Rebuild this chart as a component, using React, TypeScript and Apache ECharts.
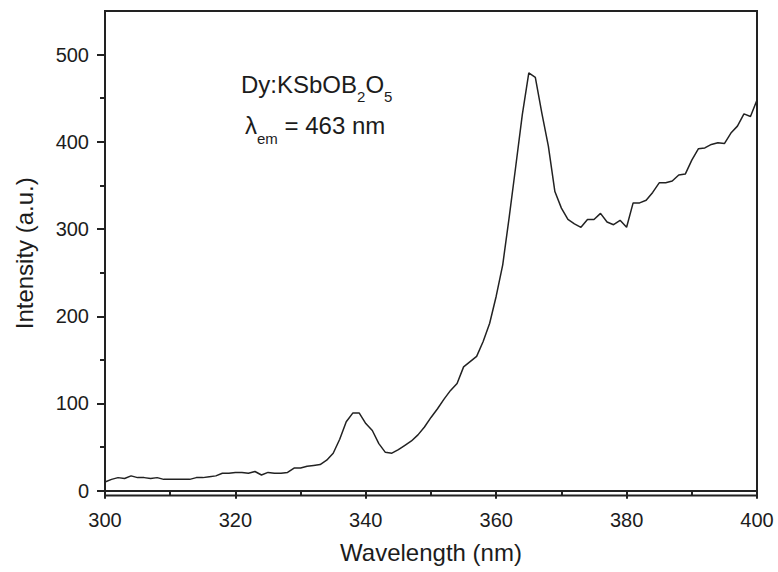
import { useEffect, useRef } from "react";
import * as echarts from "echarts";

// Excitation spectrum sampled every 1 nm from 300 to 400 nm
const wavelengths = [
  300, 301, 302, 303, 304, 305, 306, 307, 308, 309,
  310, 311, 312, 313, 314, 315, 316, 317, 318, 319,
  320, 321, 322, 323, 324, 325, 326, 327, 328, 329,
  330, 331, 332, 333, 334, 335, 336, 337, 338, 339,
  340, 341, 342, 343, 344, 345, 346, 347, 348, 349,
  350, 351, 352, 353, 354, 355, 356, 357, 358, 359,
  360, 361, 362, 363, 364, 365, 366, 367, 368, 369,
  370, 371, 372, 373, 374, 375, 376, 377, 378, 379,
  380, 381, 382, 383, 384, 385, 386, 387, 388, 389,
  390, 391, 392, 393, 394, 395, 396, 397, 398, 399,
  400,
];

const intensity = [
  10, 13, 15, 14, 17, 15, 15, 14, 15, 13,
  13, 13, 13, 13, 15, 15, 16, 17, 20, 20,
  21, 21, 20, 22, 18, 21, 20, 20, 21, 26,
  26, 28, 29, 30, 35, 43, 59, 79, 89, 89,
  77, 69, 54, 44, 43, 47, 52, 57, 64, 73,
  84, 94, 105, 115, 123, 142, 148, 154, 171, 192,
  223, 259, 314, 372, 431, 479, 474, 433, 395, 343,
  324, 311, 306, 302, 311, 311, 318, 308, 305, 310,
  302, 330, 330, 333, 342, 353, 353, 355, 362, 363,
  379, 392, 393, 397, 399, 398, 410, 418, 432, 429,
  448,
];

const yMajorTicks = [0, 100, 200, 300, 400, 500];
const yMinorTicks = [50, 150, 250, 350, 450];

const FONT = '"Liberation Sans", Arial, Helvetica, sans-serif';
const INK = "#1c1c1c";
const AXIS = "#222222";

export default function App() {
  const ref = useRef<HTMLDivElement>(null);

  useEffect(() => {
    if (!ref.current) return;
    const chart = echarts.init(ref.current, undefined, { renderer: "svg" });
    const axisLineStyle = { color: AXIS, width: 2 };

    chart.setOption({
      animation: false,
      backgroundColor: "#ffffff",
      grid: {
        left: 105,
        right: 21,
        top: 11,
        bottom: 76.5,
        show: true,
        borderColor: AXIS,
        borderWidth: 2,
        backgroundColor: "transparent",
      },
      xAxis: {
        type: "value",
        min: 300,
        max: 400,
        interval: 20,
        name: "Wavelength (nm)",
        nameLocation: "middle",
        nameGap: 45,
        nameTextStyle: { fontSize: 24, color: INK, fontFamily: FONT },
        axisLine: { show: true, lineStyle: axisLineStyle },
        axisTick: { show: true, inside: false, length: 8, lineStyle: axisLineStyle },
        minorTick: { show: true, splitNumber: 2, length: 5, lineStyle: axisLineStyle },
        axisLabel: { fontSize: 20, color: INK, fontFamily: FONT, margin: 14 },
        splitLine: { show: false },
        minorSplitLine: { show: false },
      },
      yAxis: [
        {
          type: "value",
          min: -5.5,
          max: 550,
          position: "left",
          name: "Intensity (a.u.)",
          nameLocation: "middle",
          nameRotate: 90,
          nameGap: 69,
          nameTextStyle: { fontSize: 24, color: INK, fontFamily: FONT },
          axisLine: { show: true, lineStyle: axisLineStyle },
          axisTick: {
            show: true,
            inside: false,
            length: 8,
            customValues: yMajorTicks,
            lineStyle: axisLineStyle,
          },
          axisLabel: {
            fontSize: 20,
            color: INK,
            fontFamily: FONT,
            margin: 16,
            customValues: yMajorTicks,
          },
          splitLine: { show: false },
        },
        {
          type: "value",
          min: -5.5,
          max: 550,
          position: "left",
          offset: 0,
          axisLine: { show: false },
          axisTick: {
            show: true,
            inside: false,
            length: 5,
            customValues: yMinorTicks,
            lineStyle: axisLineStyle,
          },
          axisLabel: { show: false },
          splitLine: { show: false },
        },
      ],
      series: [
        {
          type: "line",
          data: wavelengths.map((w, i) => [w, intensity[i]]),
          symbol: "none",
          showSymbol: false,
          lineStyle: { color: AXIS, width: 1.5 },
          z: 3,
        },
      ],
      graphic: [
        {
          type: "text",
          left: 241,
          top: 65,
          style: {
            text: "{m|Dy:KSbOB}{s|2}{m|O}{s|5}",
            rich: {
              m: { fontSize: 24, fontFamily: FONT, fill: INK, lineHeight: 28 },
              s: {
                fontSize: 15,
                fontFamily: FONT,
                fill: INK,
                lineHeight: 18,
                padding: [24, 0, 0, 0],
              },
            },
          },
        },
        {
          type: "text",
          left: 245,
          top: 105,
          style: {
            text: "{m|λ}{s|em}{m| = 463 nm}",
            rich: {
              m: { fontSize: 24, fontFamily: FONT, fill: INK, lineHeight: 28 },
              s: {
                fontSize: 15,
                fontFamily: FONT,
                fill: INK,
                lineHeight: 18,
                padding: [26, 0, 0, 0],
              },
            },
          },
        },
      ],
    });

    return () => chart.dispose();
  }, []);

  return (
    <div
      ref={ref}
      style={{ position: "fixed", left: 0, top: 0, width: 778, height: 572, background: "#fff" }}
    />
  );
}
